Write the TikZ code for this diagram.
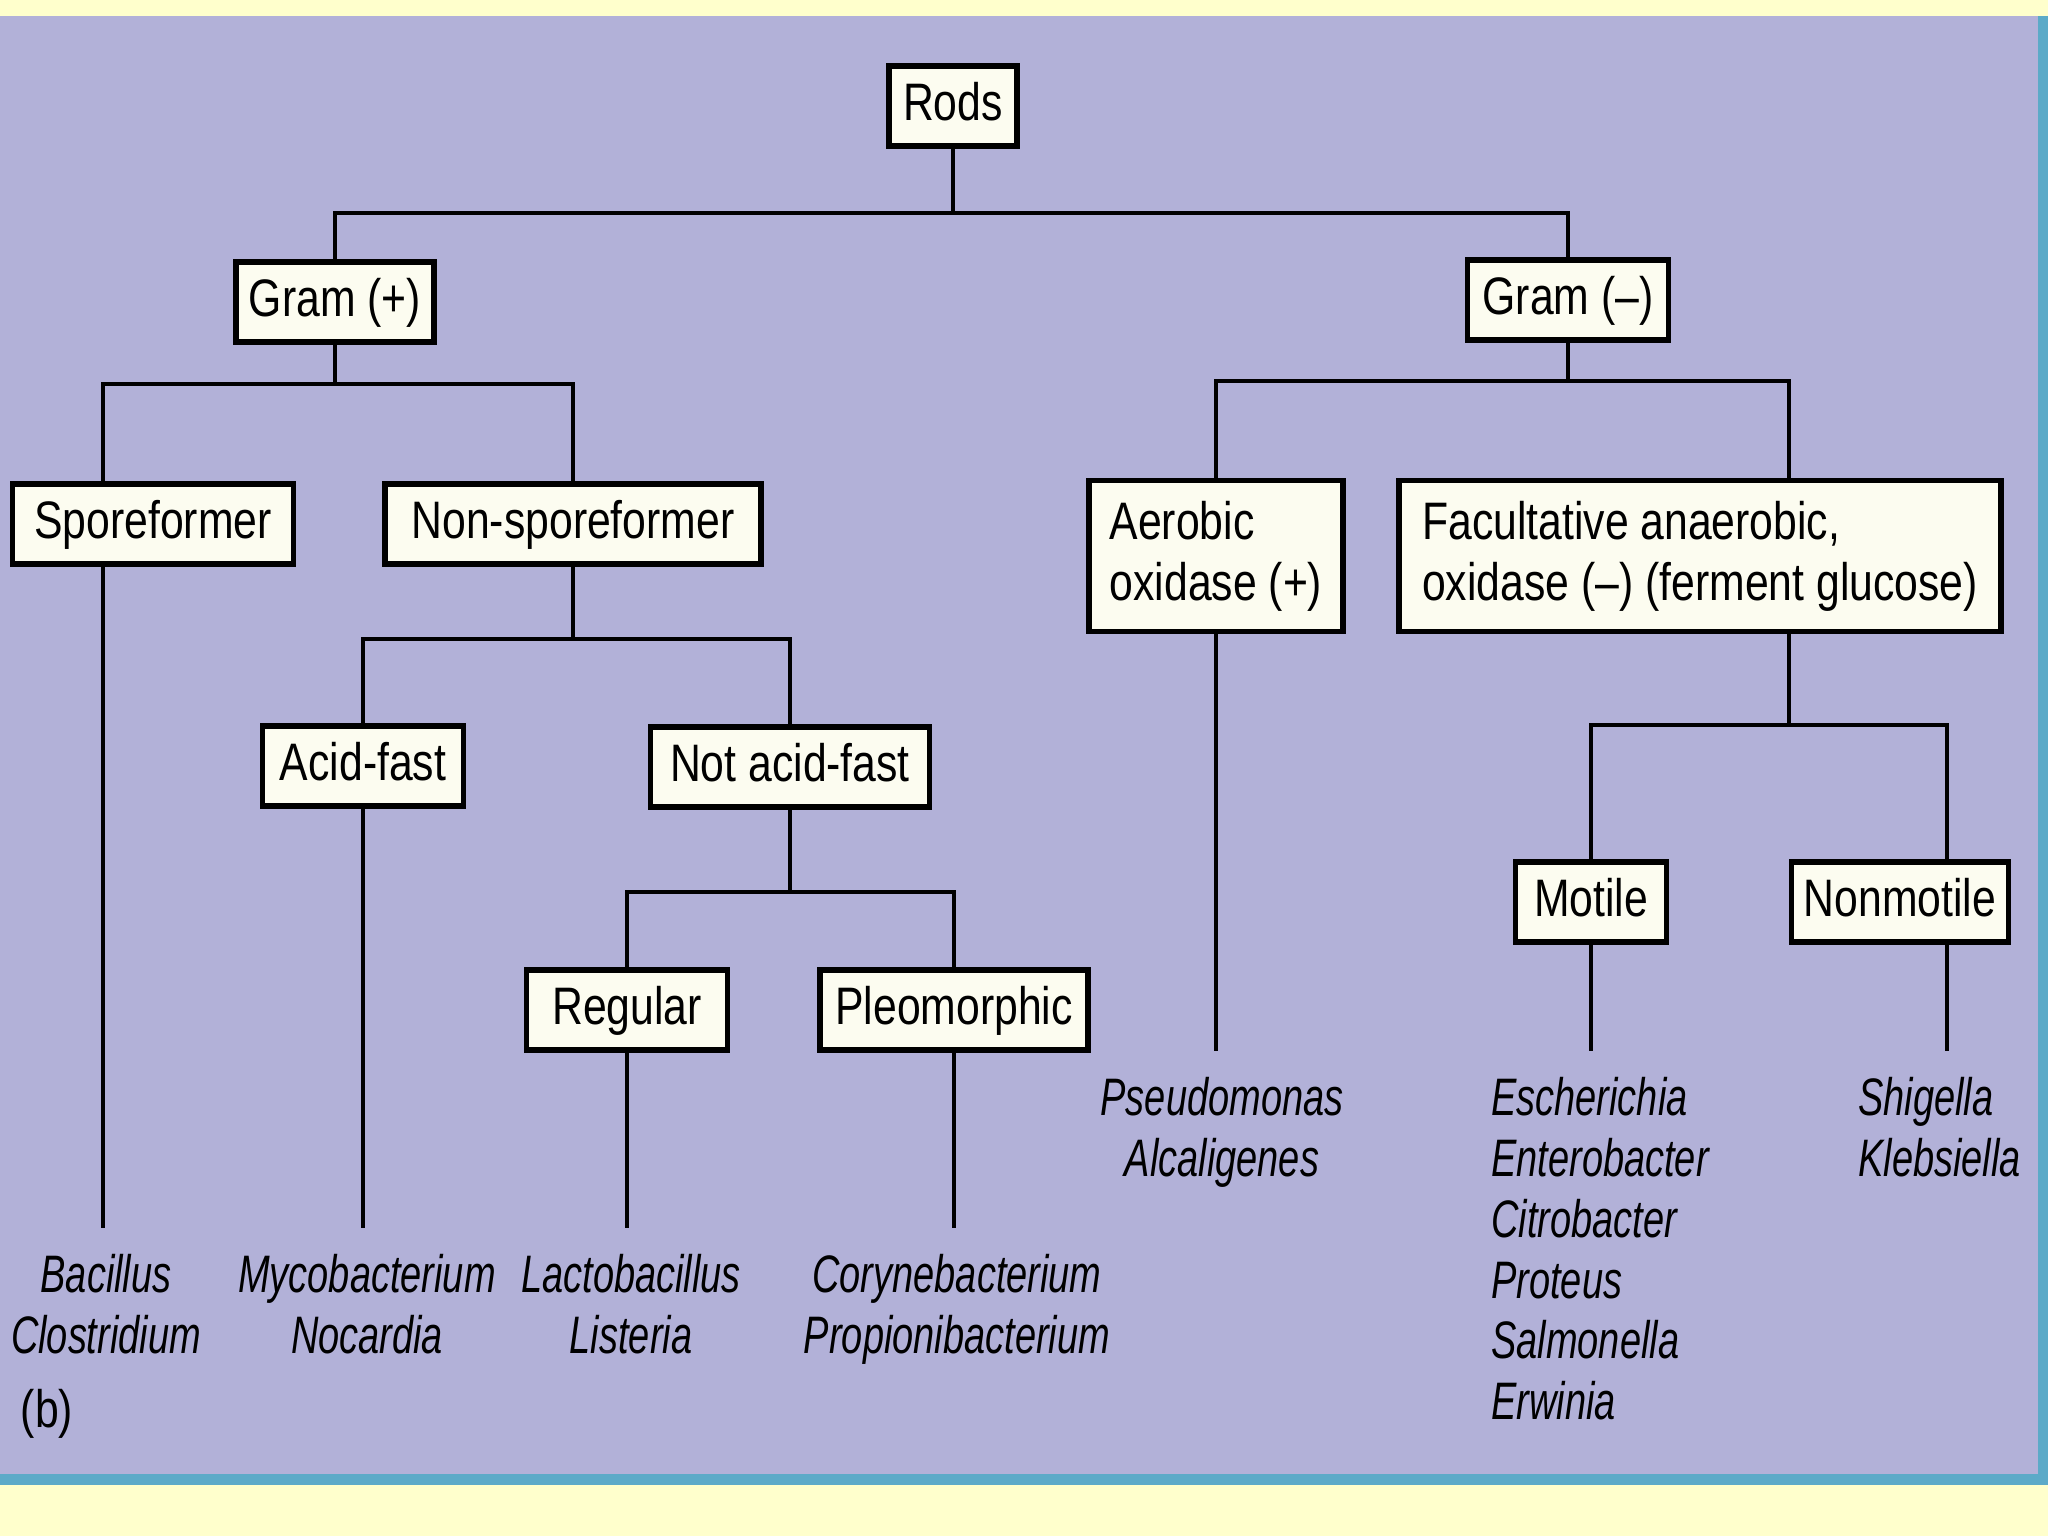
\documentclass[tikz,border=0pt]{standalone}
\usepackage{fontspec}
\setmainfont[FakeStretch=0.81]{Liberation Sans}
\newfontfamily\gattungfont[FakeStretch=0.72]{Liberation Sans}
\usepackage{tikz}
\definecolor{hgelb}{RGB}{255,255,204}
\definecolor{lila}{RGB}{178,177,216}
\definecolor{tuerkis}{RGB}{92,170,200}
\definecolor{kastenweiss}{RGB}{252,252,240}

\begin{document}
\begin{tikzpicture}[kasten/.style={draw, line width=1.6pt, fill=kastenweiss, inner xsep=0pt, minimum height=0.8cm, text height=0.95em, text depth=0.1em, font=\fontsize{15}{17.3}\selectfont},
			kasten2/.style={draw, line width=1.6pt, fill=kastenweiss, align=left, inner sep=0pt, minimum height=1.51cm, font=\fontsize{15}{17.3}\selectfont},
			gattung/.style={inner xsep=0pt, inner ysep=0.24cm, font=\gattungfont\itshape\fontsize{15}{17.3}\selectfont},
			x=0.01cm, y=-0.01cm, line width=1.3pt]
			\useasboundingbox (0,0) rectangle (2048,1536);
			%Hintergrund
			\fill[hgelb] (0,0) rectangle (2048,1536);
			\fill[tuerkis] (0,16) rectangle (2048,1485);
			\fill[lila] (0,16) rectangle (2038,1474);
			%Kaesten
			\node[kasten, minimum width=1.28cm] (rods) at (953,106) {Rods};
			\node[kasten, minimum width=1.98cm] (gramp) at (335,302) {Gram (+)};
			\node[kasten, minimum width=2.01cm] (gramn) at (1568,300) {Gram ({--})};
			\node[kasten, minimum width=2.81cm] (spore) at (153,524) {Sporeformer};
			\node[kasten, minimum width=3.76cm] (nonspore) at (573,524) {Non-sporeformer};
			\node[kasten, minimum width=2.01cm] (acid) at (363,766) {Acid-fast};
			\node[kasten, minimum width=2.79cm] (notacid) at (790,767) {Not acid-fast};
			\node[kasten, minimum width=2.01cm] (regular) at (627,1010) {Regular};
			\node[kasten, minimum width=2.68cm] (pleo) at (954,1010) {Pleomorphic};
			\node[kasten2, minimum width=2.54cm] (aerob) at (1216,556) {Aerobic\\oxidase (+)};
			\node[kasten2, minimum width=6.02cm] (fakult) at (1700,556) {Facultative anaerobic,\\oxidase ({--}) (ferment glucose)};
			\node[kasten, minimum width=1.51cm] (motile) at (1591,902) {Motile};
			\node[kasten, minimum width=2.17cm] (nonmot) at (1900,902) {Nonmotile};
			%Gattungen
			\node[gattung, anchor=north, align=center] (bac) at (106,1228) {Bacillus\\Clostridium};
			\node[gattung, anchor=north, align=center] (myco) at (367,1228) {Mycobacterium\\Nocardia};
			\node[gattung, anchor=north, align=center] (lacto) at (631,1228) {Lactobacillus\\Listeria};
			\node[gattung, anchor=north, align=center] (cory) at (957,1228) {Corynebacterium\\Propionibacterium};
			\node[gattung, anchor=north, align=center] (pseudo) at (1222,1051) {Pseudomonas\\Alcaligenes};
			\node[gattung, anchor=north west, align=left] (esch) at (1489,1051) {Escherichia\\Enterobacter\\Citrobacter\\Proteus\\Salmonella\\Erwinia};
			\node[gattung, anchor=north west, align=left] (shig) at (1856,1051) {Shigella\\Klebsiella};
			\node[font=\fontsize{15}{17.3}\selectfont] (teil) at (47,1414) {(b)};
			%Verzweigungen
			\coordinate (k1) at (953,213);
			\coordinate (k2) at (335,384);
			\coordinate (sx) at (103,384);
			\coordinate (k3) at (573,639);
			\coordinate (k4) at (790,892);
			\coordinate (k5) at (1568,381);
			\coordinate (fx) at (1789,381);
			\coordinate (k6) at (1789,725);
			\coordinate (nx) at (1947,725);
			\draw (rods) -- (k1);
			\draw (gramp) |- (k1) -| (gramn);
			\draw (gramp) -- (k2);
			\draw (spore.north -| sx) -- (sx) -- (k2) -| (nonspore);
			\draw (nonspore) -- (k3);
			\draw (acid) |- (k3) -| (notacid);
			\draw (notacid) -- (k4);
			\draw (regular) |- (k4) -| (pleo);
			\draw (gramn) -- (k5);
			\draw (aerob) |- (fx) -- (fakult.north -| fx);
			\draw (fakult.south -| k6) -- (k6);
			\draw (motile) |- (nx) -- (nonmot.north -| nx);
			%Linien zu den Gattungen
			\foreach \k/\g in {acid/myco, regular/lacto, pleo/cory, aerob/pseudo, motile/esch}
				\draw (\k) -- (\k |- \g.north);
			\draw (spore.south -| sx) -- (sx |- bac.north);
			\draw (nonmot.south -| nx) -- (nx |- shig.north);
		\end{tikzpicture}
\end{document}
